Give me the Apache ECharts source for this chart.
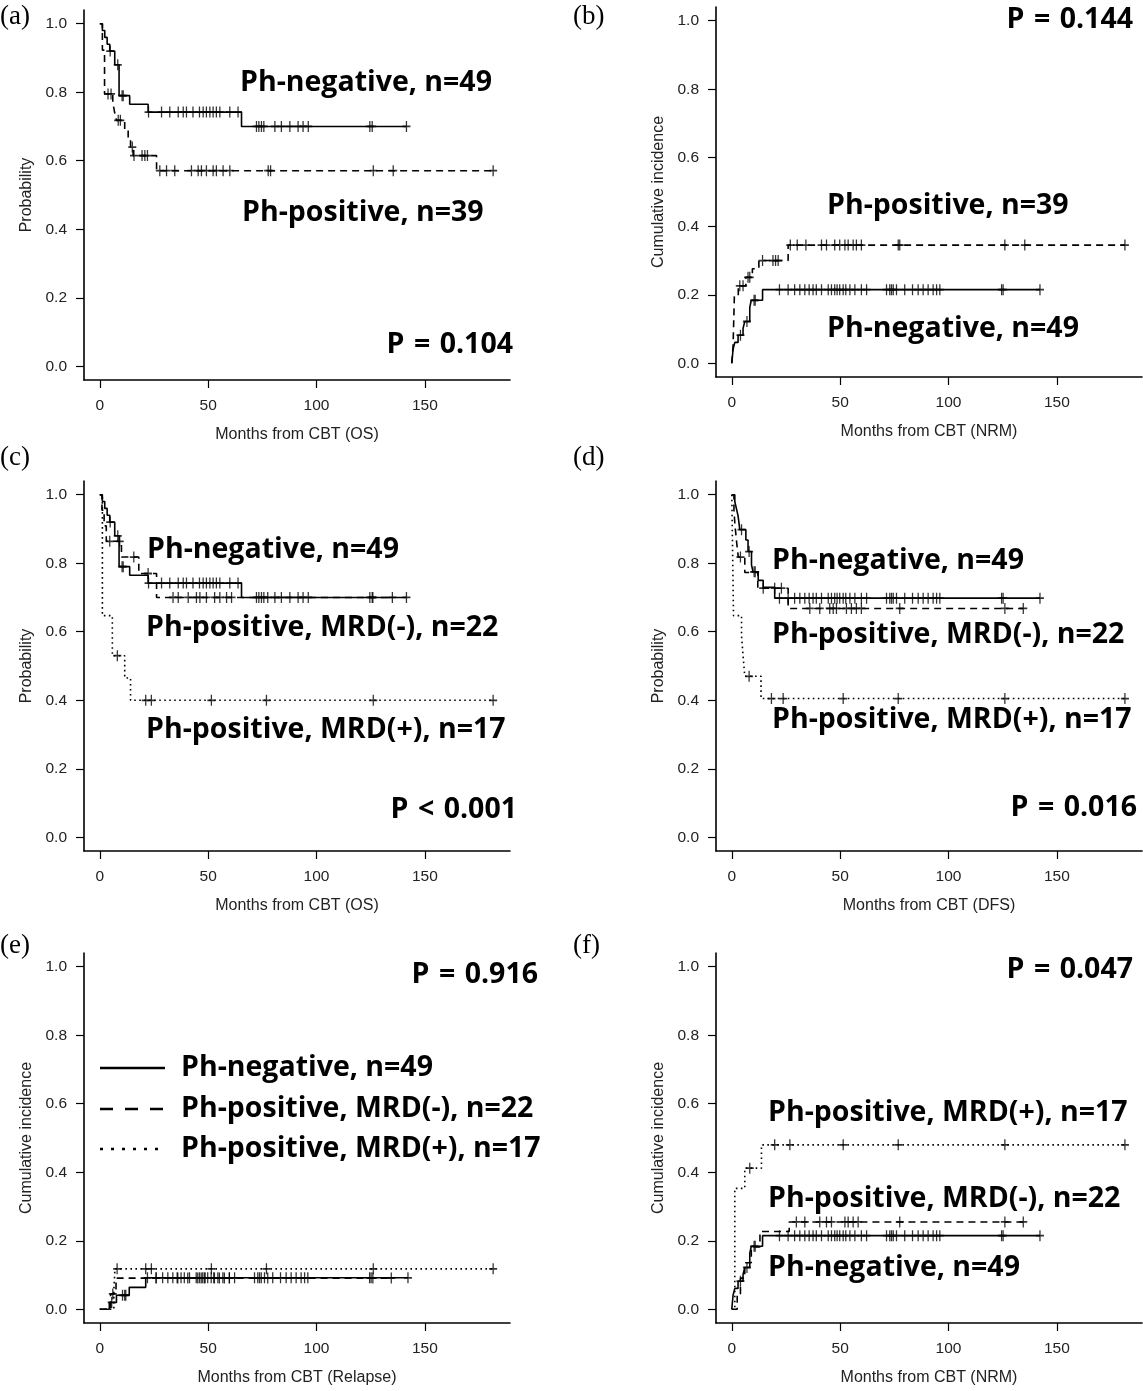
<!DOCTYPE html>
<html>
<head>
<meta charset="utf-8">
<script src="https://cdn.jsdelivr.net/npm/echarts@6/dist/echarts.min.js"></script>
<style>
html, body { margin: 0; padding: 0; background: #fff; }
#chart { width: 1143px; height: 1391px; }
</style>
</head>
<body>
<div id="chart"></div>
<script>
// axis ticks
var xTicks = [0, 50, 100, 150];
var yTicks = [0, 0.2, 0.4, 0.6, 0.8, 1.0];

// curves are [months, value] step points, censor lists are months

// censor times shared by the Ph-negative group (alive, event free)
var negLate = [22, 26, 29, 31.4, 33.7, 35.7, 37.5, 39, 41.4, 44.5, 46, 47.5, 48.6, 49.8, 51.4, 52.6, 54.5, 56.8, 59.8, 62.2,
  71.4, 72.9, 73.7, 74.5, 76, 79.8, 83.4, 86, 88.3, 90.6, 92.9, 94.5, 96, 124.5, 125.2, 142.2];

// (a) OS by Ph status
var osNeg = [[0, 1], [1.2, 0.98], [2.3, 0.96], [3.4, 0.94], [4.6, 0.92], [6.9, 0.88], [8.9, 0.79], [13.8, 0.765], [22.3, 0.742], [65.4, 0.70], [141.5, 0.70]];
var osNegCens = [4.8, 8.3, 10.3, 10.8, 22.5, 28.5, 32.3, 36.2, 38.5, 40, 43, 46, 47.7, 49.2, 50.8, 52.3, 53.8, 55.4, 60, 63.8,
  72.3, 73.4, 74.6, 75.7, 80.8, 83.8, 87.7, 91.5, 93.8, 96.2, 124.6, 125.7, 141.5];
var osPos = [[0, 1], [1.2, 0.923], [2.2, 0.795], [6, 0.77], [6.9, 0.74], [7.7, 0.718], [11.5, 0.69], [13.1, 0.664], [14.2, 0.64], [15.4, 0.615], [26.2, 0.571], [181.5, 0.571]];
var osPosCens = [3.8, 5.2, 8.5, 9.5, 15, 15.8, 19.5, 20.8, 22, 27.7, 30.8, 34.6, 42.3, 45.4, 46.9, 49.2, 52.3, 53.8, 56.9, 60,
  77.7, 78.8, 126.2, 135.4, 181.5];

// (b) NRM by Ph status
var nrmNeg = [[0, 0], [0.6, 0.041], [1.4, 0.061], [2.9, 0.082], [5.2, 0.102], [6, 0.122], [8.3, 0.163], [9, 0.184], [14.2, 0.215], [142.2, 0.215]];
var nrmNegEarly = [4, 7, 10.3, 10.8];
var nrmPos = [[0, 0], [0.6, 0.051], [1.2, 0.197], [3, 0.226], [6.5, 0.251], [9.5, 0.276], [12.5, 0.3], [26, 0.345], [181.4, 0.345]];
var nrmPosCens = [3.7, 5.2, 7.5, 8.3, 14.2, 19, 20.2, 21.4, 27, 30.2, 34.2, 41.4, 43.7, 47.5, 49.8, 52.2, 53.7, 56, 57.5, 59.8,
  76.8, 77.5, 126, 135.2, 181.4];

// (c) OS by Ph / MRD status
var osMrdNeg = [[0, 1], [1, 0.955], [2, 0.909], [3, 0.864], [10, 0.818], [18, 0.77], [26.2, 0.70], [135, 0.70]];
var osMrdNegCens = [4.6, 9.2, 15.7, 22.3, 33.8, 36.2, 40.8, 44.6, 46.2, 49.2, 53, 55.4, 58.5, 60.8, 77.5, 126, 135];
var osMrdPos = [[0, 1], [1.2, 0.647], [5.8, 0.53], [11.5, 0.465], [14.2, 0.40], [181.5, 0.40]];
var osMrdPosCens = [8.1, 21.2, 23.8, 51.5, 76.9, 126.2, 181.5];

// (d) DFS by Ph / MRD status
var dfsNeg = [[0, 1], [1.4, 0.98], [2.2, 0.958], [2.9, 0.938], [3.7, 0.898], [6.5, 0.868], [7.5, 0.834], [9.1, 0.795], [9.8, 0.775], [12.2, 0.75], [14.5, 0.73], [19.8, 0.698], [142.2, 0.698]];
var dfsNegEarly = [4.5, 8, 10.3, 10.8];
var dfsMrdNeg = [[0, 1], [1, 0.955], [1.5, 0.909], [2.2, 0.864], [3, 0.818], [6, 0.773], [12, 0.727], [26, 0.668], [134.5, 0.668]];
var dfsMrdNegCens = [4, 14.5, 19.8, 22.9, 36, 40.6, 45.2, 46.8, 48.3, 52.9, 55.2, 57.5, 59.8, 77.5, 126, 134.5];
var dfsMrdPos = [[0, 1], [0.8, 0.647], [4.5, 0.588], [5.2, 0.53], [6, 0.47], [13.5, 0.405], [181.4, 0.405]];
var dfsMrdPosCens = [8, 18.3, 23.7, 51.4, 76.8, 126, 181.4];

// (e) relapse by Ph / MRD status
var relNeg = [[0, 0], [4.4, 0.02], [7.7, 0.041], [13.6, 0.064], [21.2, 0.092], [142.2, 0.092]];
var relNegEarly = [5.5, 10.5, 11.5, 12];
var relMrdNeg = [[0, 0], [5, 0.045], [7.5, 0.091], [134.5, 0.091]];
var relMrdNegCens = [6, 26, 36, 40.6, 45.2, 46.8, 48.3, 52.9, 55.2, 57.5, 59.8, 77.5, 126, 134.5];
var relMrdPos = [[0, 0], [6.5, 0.059], [7, 0.118], [181.5, 0.118]];
var relMrdPosCens = [8, 21.2, 23.8, 51.5, 76.9, 126.2, 181.5];

// (f) NRM by Ph / MRD status
var nrmMrdPos = [[0, 0], [1.4, 0.353], [6, 0.412], [13.7, 0.48], [181.4, 0.48]];
var nrmMrdPosCens = [8.3, 19.8, 26.8, 51.4, 76.8, 126, 181.4];
var nrmMrdNeg = [[0, 0], [2.5, 0.045], [4, 0.091], [6, 0.136], [9, 0.182], [13, 0.227], [26.5, 0.255], [134.5, 0.255]];
var nrmMrdNegCens = [29.8, 33.7, 40.6, 43.7, 46, 52.2, 53.7, 56, 58.3, 77.5, 126, 134.5];

var SOLID = 'solid', DASH = [7, 5], DOT = [1.6, 3.4];

// panel layout: grid left/top in px
var panels = [
  { left: 84, top: 10, xName: 'Months from CBT (OS)', yName: 'Probability',
    groups: [[osNeg, osNegCens, SOLID], [osPos, osPosCens, DASH]] },
  { left: 716, top: 7, xName: 'Months from CBT (NRM)', yName: 'Cumulative incidence',
    groups: [[nrmNeg, nrmNegEarly.concat(negLate), SOLID], [nrmPos, nrmPosCens, DASH]] },
  { left: 84, top: 481, xName: 'Months from CBT (OS)', yName: 'Probability',
    groups: [[osNeg, osNegCens, SOLID], [osMrdNeg, osMrdNegCens, DASH], [osMrdPos, osMrdPosCens, DOT]] },
  { left: 716, top: 481, xName: 'Months from CBT (DFS)', yName: 'Probability',
    groups: [[dfsNeg, dfsNegEarly.concat(negLate), SOLID], [dfsMrdNeg, dfsMrdNegCens, DASH], [dfsMrdPos, dfsMrdPosCens, DOT]] },
  { left: 84, top: 953, xName: 'Months from CBT (Relapse)', yName: 'Cumulative incidence',
    groups: [[relNeg, relNegEarly.concat(negLate), SOLID], [relMrdNeg, relMrdNegCens, DASH], [relMrdPos, relMrdPosCens, DOT]] },
  { left: 716, top: 953, xName: 'Months from CBT (NRM)', yName: 'Cumulative incidence',
    groups: [[nrmNeg, nrmNegEarly.concat(negLate), SOLID], [nrmMrdNeg, nrmMrdNegCens, DASH], [nrmMrdPos, nrmMrdPosCens, DOT]] }
];

// value of a step curve at time t
function stepAt(curve, t) {
  var v = curve[0][1];
  for (var i = 0; i < curve.length; i++) {
    if (curve[i][0] <= t) v = curve[i][1];
  }
  return v;
}

var axisFont = '"Liberation Sans", Arial, sans-serif';
var grids = [], xAxes = [], yAxes = [], series = [];

panels.forEach(function (p, i) {
  grids.push({ left: p.left, top: p.top, width: 426, height: 370 });
  xAxes.push({
    gridIndex: i, type: 'value', min: -7.28, max: 189.28,
    axisLine: { show: true, onZero: false, lineStyle: { color: '#000', width: 1.6 } },
    axisTick: { show: true, customValues: xTicks, length: 8, lineStyle: { color: '#000', width: 1.2 } },
    axisLabel: { customValues: xTicks, margin: 18, fontSize: 15.5, fontFamily: axisFont, color: '#222' },
    splitLine: { show: false },
    name: p.xName, nameLocation: 'middle', nameGap: 47,
    nameTextStyle: { fontSize: 16, fontFamily: axisFont, color: '#222' }
  });
  yAxes.push({
    gridIndex: i, type: 'value', min: -0.04, max: 1.04,
    axisLine: { show: true, onZero: false, lineStyle: { color: '#000', width: 1.6 } },
    axisTick: { show: true, customValues: yTicks, length: 8, lineStyle: { color: '#000', width: 1.2 } },
    axisLabel: { customValues: yTicks, margin: 17, fontSize: 15.5, fontFamily: axisFont, color: '#222',
      formatter: function (v) { return v.toFixed(1); } },
    splitLine: { show: false },
    name: p.yName, nameLocation: 'middle', nameGap: 49, nameRotate: 90,
    nameTextStyle: { fontSize: 16, fontFamily: axisFont, color: '#222' }
  });
  p.groups.forEach(function (g) {
    series.push({
      type: 'line', xAxisIndex: i, yAxisIndex: i, data: g[0], step: 'end',
      symbol: 'none', silent: true,
      lineStyle: { color: '#000', width: 1.6, type: g[2] }
    });
    series.push({
      type: 'scatter', xAxisIndex: i, yAxisIndex: i, silent: true,
      data: g[1].map(function (t) { return [t, stepAt(g[0], t)]; }),
      symbol: 'path://M0,5L10,5M5,0L5,10', symbolSize: [8, 11],
      itemStyle: { color: 'none', borderColor: '#000', borderWidth: 1.5 }
    });
  });
});

var boldFont = 'bold 28.5px "Open Sans", "Noto Sans", sans-serif';
function txt(s, x, y, align, font) {
  return { type: 'text', x: x, y: y, silent: true,
    style: { text: s, font: font || boldFont, fill: '#000', align: align || 'left', verticalAlign: 'middle',
      textAlign: align || 'left', textVerticalAlign: 'middle' } };
}
function legLine(y, dash) {
  return { type: 'line', silent: true, shape: { x1: 100, y1: y, x2: 165, y2: y },
    style: { stroke: '#000', lineWidth: 2.6, lineDash: dash } };
}
var tagFont = '27px "Liberation Serif", "Times New Roman", serif';
var SP = '\u2004';

var graphics = [
  txt('(a)', 0, 17, 'left', tagFont), txt('(b)', 573, 17, 'left', tagFont),
  txt('(c)', 0, 458, 'left', tagFont), txt('(d)', 573, 458, 'left', tagFont),
  txt('(e)', 0, 946, 'left', tagFont), txt('(f)', 573, 946, 'left', tagFont),
  // (a)
  txt('Ph-negative, n=49', 240, 83), txt('Ph-positive, n=39', 242, 213), txt('P' + SP + '=' + SP + '0.104', 513, 345, 'right'),
  // (b)
  txt('P' + SP + '=' + SP + '0.144', 1133, 20, 'right'), txt('Ph-positive, n=39', 827, 206), txt('Ph-negative, n=49', 827, 329),
  // (c)
  txt('Ph-negative, n=49', 147, 550), txt('Ph-positive, MRD(-), n=22', 146, 628),
  txt('Ph-positive, MRD(+), n=17', 146, 730), txt('P' + SP + '<' + SP + '0.001', 517, 810, 'right'),
  // (d)
  txt('Ph-negative, n=49', 772, 561), txt('Ph-positive, MRD(-), n=22', 772, 635),
  txt('Ph-positive, MRD(+), n=17', 772, 720), txt('P' + SP + '=' + SP + '0.016', 1137, 808, 'right'),
  // (e)
  txt('P' + SP + '=' + SP + '0.916', 538, 975, 'right'),
  legLine(1068, null), legLine(1109, [13, 12]), legLine(1149, [3, 8]),
  txt('Ph-negative, n=49', 181, 1068), txt('Ph-positive, MRD(-), n=22', 181, 1109),
  txt('Ph-positive, MRD(+), n=17', 181, 1149),
  // (f)
  txt('P' + SP + '=' + SP + '0.047', 1133, 970, 'right'), txt('Ph-positive, MRD(+), n=17', 768, 1113),
  txt('Ph-positive, MRD(-), n=22', 768, 1199), txt('Ph-negative, n=49', 768, 1268)
];

var chart = echarts.init(document.getElementById('chart'), null, { renderer: 'canvas' });
chart.setOption({
  animation: false,
  backgroundColor: '#fff',
  grid: grids,
  xAxis: xAxes,
  yAxis: yAxes,
  series: series,
  graphic: graphics
});
</script>
</body>
</html>
